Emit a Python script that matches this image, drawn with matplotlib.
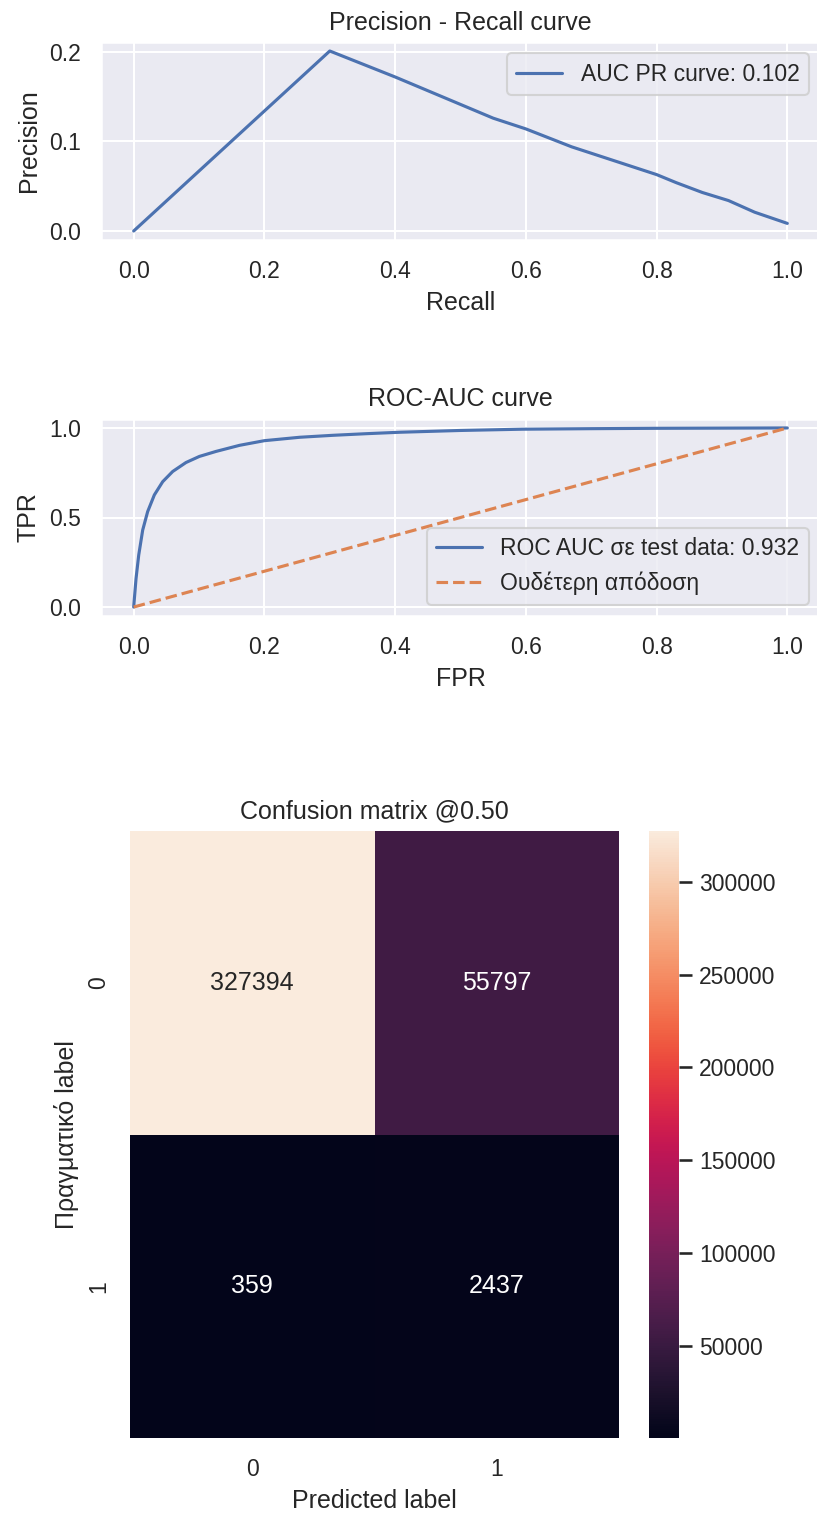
import matplotlib
matplotlib.use("Agg")
import matplotlib.pyplot as plt
import numpy as np
import seaborn as sns

sns.set_theme()
plt.rcParams['font.family'] = ['Liberation Sans', 'DejaVu Sans']

# Precision-Recall curve data
recall = [0.0, 0.30, 0.40, 0.55, 0.60, 0.67, 0.80, 0.83, 0.87, 0.91, 0.95, 1.0]
precision = [0.0, 0.201, 0.172, 0.126, 0.114, 0.094, 0.063, 0.054, 0.043, 0.034, 0.021, 0.0085]
pr_auc = 0.102

# ROC curve data
fpr = [0.0, 0.0036, 0.0077, 0.0138, 0.0214, 0.0316, 0.0444, 0.0597, 0.080, 0.1005,
       0.126, 0.162, 0.200, 0.254, 0.305, 0.356, 0.407, 0.50, 0.594, 0.70, 0.80, 0.90, 1.0]
tpr = [0.0, 0.159, 0.29, 0.43, 0.533, 0.626, 0.70, 0.757, 0.807, 0.841,
       0.869, 0.903, 0.929, 0.948, 0.959, 0.968, 0.976, 0.986, 0.993, 0.996, 0.998, 0.999, 1.0]
roc_auc = 0.932
baseline = [0.0, 1.0]

# Confusion matrix
cm = np.array([[327394, 55797],
               [359, 2437]])
threshold = 0.50

W, H = 817, 1514
dpi = 150
fig = plt.figure(figsize=(W / dpi, H / dpi), dpi=dpi)

def px_axes(left, top, right, bottom):
    return fig.add_axes([left / W, 1 - bottom / H, (right - left) / W, (bottom - top) / H])

ax1 = px_axes(101, 42, 820, 240)
ax1.plot(recall, precision, label=f"AUC PR curve: {pr_auc:.3f}")
ax1.set_title("Precision - Recall curve")
ax1.set_xlabel("Recall")
ax1.set_ylabel("Precision")
ax1.legend(loc="upper right", fontsize=11)

ax2 = px_axes(101, 419, 820, 616)
ax2.plot(fpr, tpr, label=f"ROC AUC σε test data: {roc_auc:.3f}")
ax2.plot(baseline, baseline, linestyle="--", label="Ουδέτερη απόδοση")
ax2.set_title("ROC-AUC curve")
ax2.set_xlabel("FPR")
ax2.set_ylabel("TPR")
ax2.legend(loc="lower right", fontsize=11)

ax3 = px_axes(130, 831, 619, 1438)
cax = px_axes(649, 831, 679, 1438)
sns.heatmap(cm, annot=True, fmt="d", ax=ax3, cbar_ax=cax)
ax3.set_title(f"Confusion matrix @{threshold:.2f}")
ax3.set_ylabel("Πραγματικό label")
ax3.set_xlabel("Predicted label")

fig.savefig("out.png", dpi=dpi)
